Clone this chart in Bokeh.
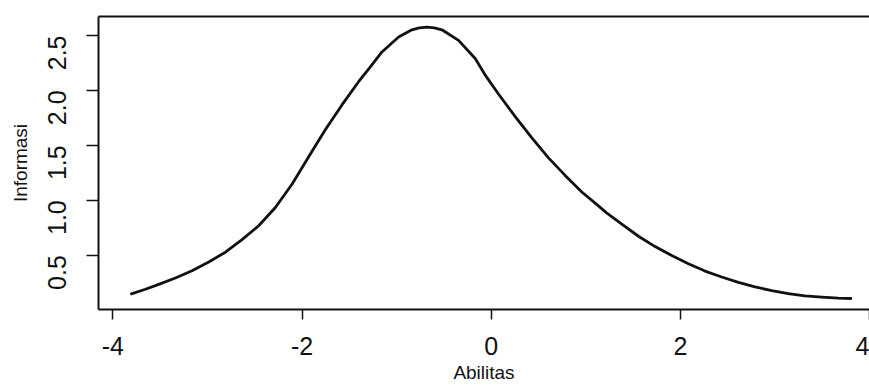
import math
from bokeh.plotting import figure
from bokeh.models import Range1d, FixedTicker, LinearAxis
from bokeh.embed import file_html
from bokeh.resources import INLINE

# Data (test information curve)
abilitas = [-3.804, -3.656, -3.515, -3.339, -3.163, -2.986, -2.81, -2.634, -2.458,
            -2.282, -2.106, -2.0, -1.894, -1.754, -1.578, -1.402, -1.29, -1.155,
            -0.979, -0.838, -0.76, -0.679, -0.60, -0.521, -0.345, -0.169, -0.063,
            0.077, 0.254, 0.43, 0.606, 0.782, 0.958, 1.134, 1.22, 1.381, 1.557,
            1.733, 1.909, 2.085, 2.261, 2.437, 2.614, 2.789, 2.966, 3.141, 3.317,
            3.494, 3.67, 3.803]
informasi = [0.147, 0.189, 0.234, 0.292, 0.358, 0.437, 0.527, 0.641, 0.768,
             0.934, 1.145, 1.296, 1.446, 1.642, 1.868, 2.079, 2.20, 2.35,
             2.486, 2.552, 2.569, 2.576, 2.569, 2.552, 2.456, 2.29, 2.139,
             1.967, 1.762, 1.567, 1.386, 1.226, 1.075, 0.948, 0.885, 0.783, 0.672,
             0.578, 0.496, 0.421, 0.355, 0.301, 0.252, 0.211, 0.177, 0.150, 0.129,
             0.117, 0.108, 0.105]

x_ticks = [-4, -2, 0, 2, 4]
x_tick_labels = ["-4", "-2", "0", "2", "4"]
y_ticks = [0.5, 1.0, 1.5, 2.0, 2.5]
y_tick_labels = ["0.5", "1.0", "1.5", "2.0", "2.5"]

TICK_FONT = "'Liberation Sans', Arial, sans-serif"
LABEL_FONT = "'Liberation Sans', Arial, sans-serif"

p = figure(width=869, height=385, output_backend="svg", toolbar_location=None,
           x_range=Range1d(-4.152, 4.0), y_range=Range1d(0.005, 2.673),
           min_border_left=98, min_border_right=0, min_border_top=16,
           min_border_bottom=74)
p.outline_line_color = None
p.grid.visible = False
p.background_fill_color = "white"
p.border_fill_color = "white"

p.line(abilitas, informasi, line_color="#111111", line_width=2.8,
       line_join="round", line_cap="round")

# bottom axis
xa = p.xaxis[0]
xa.ticker = FixedTicker(ticks=x_ticks)
xa.major_label_overrides = dict(zip(x_ticks, x_tick_labels))
xa.axis_label = "Abilitas"
# left axis
ya = p.yaxis[0]
ya.ticker = FixedTicker(ticks=y_ticks)
ya.major_label_overrides = dict(zip(y_ticks, y_tick_labels))
ya.axis_label = "Informasi"
ya.major_label_orientation = math.pi / 2

for ax in (xa, ya):
    ax.axis_line_color = "#111111"
    ax.axis_line_width = 2
    ax.major_tick_line_color = "#111111"
    ax.major_tick_line_width = 1.5
    ax.major_tick_in = 0
    ax.minor_tick_line_color = None
    ax.major_label_text_font = TICK_FONT
    ax.major_label_text_font_size = "25px"
    ax.major_label_text_color = "#111111"
    ax.axis_label_text_font = LABEL_FONT
    ax.axis_label_text_font_size = "19px"
    ax.axis_label_text_font_style = "normal"
    ax.axis_label_text_color = "#111111"

xa.major_tick_out = 10
xa.major_label_standoff = 17
xa.axis_label_standoff = 4
xa.axis_label_text_line_height = 0.7
ya.major_tick_out = 12
ya.major_label_standoff = 29
ya.axis_label_standoff = 6

# top line of the box
top = LinearAxis(ticker=FixedTicker(ticks=[]), axis_line_color="#111111",
                 axis_line_width=2, major_tick_line_color=None,
                 minor_tick_line_color=None)
p.add_layout(top, "above")

open("out.html", "w").write(file_html(p, INLINE))
